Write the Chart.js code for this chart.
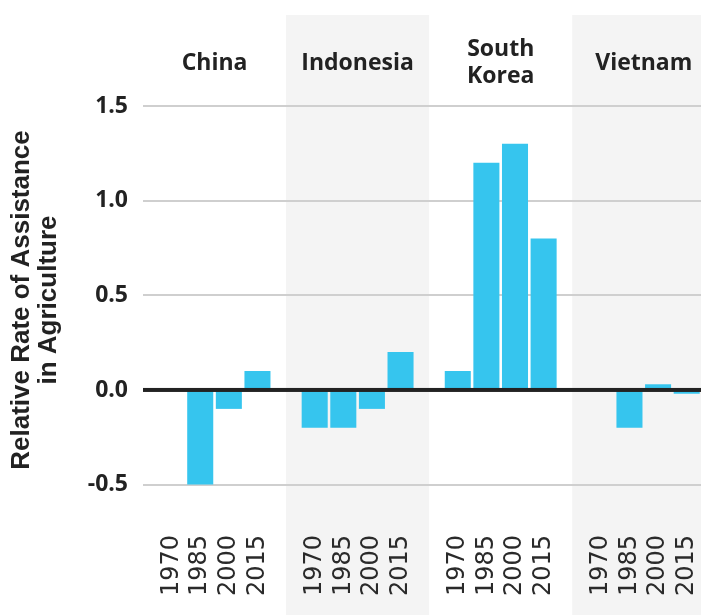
<!DOCTYPE html>
<html>
<head>
<meta charset="utf-8">
<script src="https://cdn.jsdelivr.net/npm/chart.js@4.4.1/dist/chart.umd.min.js"></script>
<style>
  html, body { margin: 0; padding: 0; background: #ffffff; }
  #wrap { width: 701px; height: 615px; }
</style>
</head>
<body>
<div id="wrap"><canvas id="rra"></canvas></div>
<script>
// Daten
var countries = ['China', 'Indonesia', 'South Korea', 'Vietnam'];
var years = ['1970', '1985', '2000', '2015'];
var china = [null, -0.5, -0.1, 0.1];
var indonesia = [-0.2, -0.2, -0.1, 0.2];
var southKorea = [0.1, 1.2, 1.3, 0.8];
var vietnam = [null, -0.2, 0.03, -0.02];
var yTicks = [-0.5, 0, 0.5, 1.0, 1.5];
var yTitle = ['Relative Rate of Assistance', 'in Agriculture'];

var series = [china, indonesia, southKorea, vietnam];
var slots = 5; // 4 Jahre + 1 Lücke pro Land

// Punkte für die lineare x-Achse bauen
var points = [];
var tickPos = [];
for (var p in series) {
  for (var j in years) {
    var xv = slots * p + Number(j);
    tickPos.push(xv);
    if (series[p][j] !== null) points.push({ x: xv, y: series[p][j] });
  }
}

// Hintergrund, Ländertitel und Achsentitel zeichnen
var panelPlugin = {
  id: 'panels',
  beforeDraw: function (chart) {
    var ctx = chart.ctx;
    var xs = chart.scales.x;
    ctx.save();
    for (var p = 0; p < countries.length; p++) {
      var x0 = xs.getPixelForValue(slots * p - 1);
      var x1 = xs.getPixelForValue(slots * p + 4);
      if (p % 2 === 1) {
        ctx.fillStyle = '#f4f4f4';
        ctx.fillRect(x0, 15, Math.min(x1, chart.width) - x0, chart.height - 15);
      }
      // Titel ggf. umbrechen
      ctx.font = 'bold 23px "Open Sans"';
      ctx.fillStyle = '#222222';
      ctx.textAlign = 'center';
      ctx.textBaseline = 'middle';
      var name = countries[p];
      var lines = ctx.measureText(name).width > (x1 - x0 - 20) ? name.split(' ') : [name];
      var lh = 27;
      var cy = 63 - (lines.length - 1) * lh / 2;
      for (var k = 0; k < lines.length; k++) {
        ctx.fillText(lines[k], (x0 + x1) / 2, cy + k * lh);
      }
    }
    // y-Achsentitel
    ctx.translate(0, 300);
    ctx.rotate(-Math.PI / 2);
    ctx.font = 'bold 26px "Liberation Sans"';
    ctx.fillStyle = '#222222';
    for (var i = 0; i < yTitle.length; i++) {
      ctx.fillText(yTitle[i], 0, 22 + i * 27);
    }
    ctx.restore();
  },
  afterDatasetsDraw: function (chart) {
    // Nulllinie über den Balken
    var ctx = chart.ctx;
    var y0 = chart.scales.y.getPixelForValue(0);
    ctx.save();
    ctx.fillStyle = '#222222';
    ctx.fillRect(chart.chartArea.left, y0 - 2, chart.chartArea.right - chart.chartArea.left, 4);
    ctx.restore();
  }
};

var ctx = document.getElementById('rra');
var myChart = new Chart(ctx, {
  type: 'bar',
  data: {
    datasets: [
      {
        label: 'RRA',
        data: points,
        backgroundColor: '#36c5ee',
        borderWidth: 0,
        barPercentage: 0.91,
        categoryPercentage: 1
      }
    ]
  },
  options: {
    responsive: true,
    maintainAspectRatio: false,
    animation: false,
    layout: {
      padding: { top: 106, left: 0, right: 0, bottom: 0 }
    },
    plugins: {
      legend: { display: false },
      tooltip: { enabled: false }
    },
    scales: {
      x: {
        type: 'linear',
        min: -1,
        max: 18.5,
        offset: false,
        grid: { display: false, offset: false },
        border: { display: false },
        afterBuildTicks: function (scale) {
          scale.ticks = tickPos.map(function (v) { return { value: v }; });
        },
        afterFit: function (scale) {
          scale.height = 102;
          scale.paddingLeft = 0;
          scale.paddingRight = 0;
        },
        ticks: {
          autoSkip: false,
          minRotation: 90,
          maxRotation: 90,
          padding: 14,
          color: '#2a2a2a',
          font: { family: 'DejaVu Sans', size: 24 },
          callback: function (value) {
            return years[value % slots];
          }
        }
      },
      y: {
        min: -0.65,
        max: 1.5,
        grid: { color: '#cfcfcf', lineWidth: 2, drawTicks: false },
        border: { display: false },
        afterBuildTicks: function (scale) {
          scale.ticks = yTicks.map(function (v) { return { value: v }; });
        },
        afterFit: function (scale) {
          scale.width = 143;
        },
        ticks: {
          padding: 15,
          color: '#222222',
          font: { family: 'Open Sans', size: 23, weight: 'bold' },
          callback: function (value) {
            return value.toFixed(1);
          }
        }
      }
    }
  },
  plugins: [panelPlugin]
});
</script>
</body>
</html>
